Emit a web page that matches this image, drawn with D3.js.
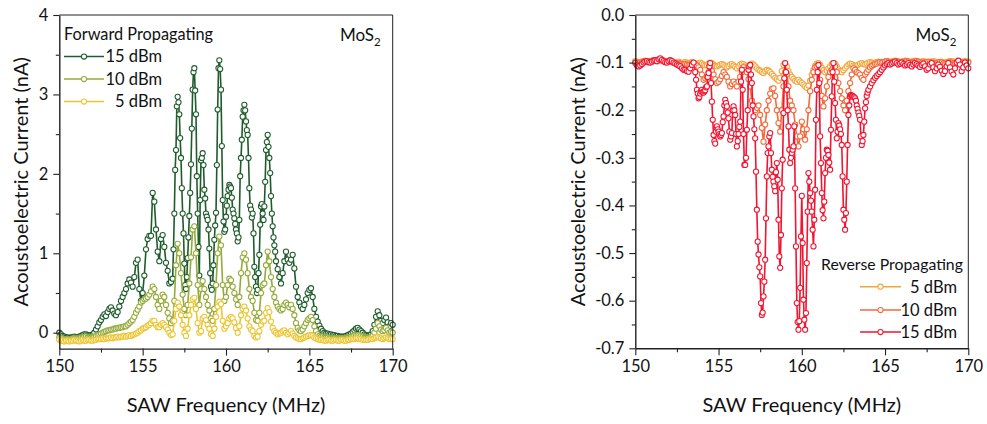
<!DOCTYPE html>
<html><head><meta charset="utf-8">
<script src="https://cdn.jsdelivr.net/npm/d3@7"></script>
<style>body{margin:0;background:#fff;} svg text{font-family:Lato,"Open Sans",sans-serif;fill:#111;}</style>
</head><body><svg id="c" width="987" height="424"></svg>
<script>
const freqMHz = [
150.0,150.1,150.2,150.3,150.4,150.5,150.6,150.7,150.8,150.9,
151.0,151.1,151.2,151.3,151.4,151.5,151.6,151.7,151.8,151.9,
152.0,152.1,152.2,152.3,152.4,152.5,152.6,152.7,152.8,152.9,
153.0,153.1,153.2,153.3,153.4,153.5,153.6,153.7,153.8,153.9,
154.0,154.1,154.2,154.3,154.4,154.5,154.6,154.7,154.8,154.9,
155.0,155.1,155.2,155.3,155.4,155.5,155.6,155.7,155.8,155.9,
156.0,156.1,156.2,156.3,156.4,156.5,156.6,156.7,156.8,156.9,
157.0,157.1,157.2,157.3,157.4,157.5,157.6,157.7,157.8,157.9,
158.0,158.1,158.2,158.3,158.4,158.5,158.6,158.7,158.8,158.9,
159.0,159.1,159.2,159.3,159.4,159.5,159.6,159.7,159.8,159.9,
160.0,160.1,160.2,160.3,160.4,160.5,160.6,160.7,160.8,160.9,
161.0,161.1,161.2,161.3,161.4,161.5,161.6,161.7,161.8,161.9,
162.0,162.1,162.2,162.3,162.4,162.5,162.6,162.7,162.8,162.9,
163.0,163.1,163.2,163.3,163.4,163.5,163.6,163.7,163.8,163.9,
164.0,164.1,164.2,164.3,164.4,164.5,164.6,164.7,164.8,164.9,
165.0,165.1,165.2,165.3,165.4,165.5,165.6,165.7,165.8,165.9,
166.0,166.1,166.2,166.3,166.4,166.5,166.6,166.7,166.8,166.9,
167.0,167.1,167.2,167.3,167.4,167.5,167.6,167.7,167.8,167.9,
168.0,168.1,168.2,168.3,168.4,168.5,168.6,168.7,168.8,168.9,
169.0,169.1,169.2,169.3,169.4,169.5,169.6,169.7,169.8,169.9,
170.0];

// Forward propagating (nA)
const fwd15 = [
0.00,-0.02,-0.04,-0.05,-0.06,-0.06,-0.07,-0.06,-0.06,-0.05,
-0.06,-0.06,-0.05,-0.04,-0.03,-0.02,-0.02,-0.03,-0.03,-0.03,
-0.02,0.00,0.04,0.08,0.13,0.16,0.20,0.23,0.21,0.26,
0.30,0.32,0.28,0.24,0.22,0.26,0.33,0.40,0.45,0.50,
0.55,0.62,0.67,0.63,0.58,0.70,0.88,0.92,0.55,0.40,
0.50,0.72,1.05,1.18,1.22,1.22,1.76,1.65,1.30,1.02,
0.90,1.18,1.23,1.08,0.88,0.78,0.62,0.64,0.68,1.50,
2.30,2.97,2.75,2.20,1.50,0.87,0.55,0.94,1.47,2.12,
3.06,3.33,2.75,1.50,0.72,2.17,2.26,1.80,1.50,1.42,
1.06,0.58,0.62,1.17,1.51,2.81,3.43,3.06,1.67,1.27,
1.46,1.72,1.86,1.82,1.55,1.44,1.30,1.15,1.42,2.20,
2.72,2.87,2.66,2.49,1.82,1.55,1.50,0.83,0.58,0.54,
0.98,1.59,1.50,1.59,2.30,2.49,2.20,1.72,1.34,1.10,
0.90,0.80,0.70,0.62,0.75,0.90,1.02,0.92,0.88,0.92,
0.98,0.81,0.58,0.45,0.38,0.33,0.30,0.35,0.42,0.50,
0.54,0.56,0.45,0.30,0.20,0.14,0.09,0.05,0.02,0.00,
-0.01,-0.01,-0.02,-0.02,-0.03,-0.03,-0.04,-0.04,-0.05,-0.05,
-0.05,-0.05,-0.04,-0.03,-0.02,-0.01,0.01,0.03,0.05,0.06,
0.04,0.02,0.00,-0.02,-0.03,-0.04,-0.03,-0.02,0.02,0.10,
0.20,0.27,0.22,0.15,0.12,0.16,0.19,0.13,0.08,0.12,
0.10];
// extra (denser) readings of the 15 dBm sweep in the resonance band
const fwd15MidFreq = [
156.85,156.95,
157.05,157.15,157.25,157.35,157.45,157.55,157.65,157.75,157.85,157.95,
158.05,158.15,158.25,158.35,158.45,158.55,158.65,158.75,158.85,158.95,
159.05,159.15,159.25,159.35,159.45,159.55,159.65,159.75,159.85,159.95,
160.05,160.15,160.25,160.35,160.45,160.55,160.65,160.75,160.85,160.95,
161.05,161.15,161.25,161.35,161.45,161.55,161.65,161.75,161.85,161.95,
162.05,162.15,162.25,162.35,162.45,162.55,162.65,162.75,162.85,162.95];
const fwd15Mid = [
1.05,2.05,
2.85,2.90,2.45,1.82,1.25,0.60,0.70,1.20,1.76,2.57,
3.28,3.05,1.97,1.08,1.67,2.20,2.11,1.69,1.46,1.30,
0.75,0.54,0.85,1.35,2.11,3.33,3.32,2.35,1.40,1.30,
1.60,1.80,1.84,1.70,1.50,1.37,1.25,1.20,1.97,2.43,
2.80,2.80,2.55,2.20,1.60,1.45,1.25,0.70,0.50,0.75,
1.36,1.62,1.42,1.90,2.40,2.34,2.01,1.50,1.20,1.02];
const fwd10 = [
-0.06,-0.07,-0.07,-0.08,-0.08,-0.08,-0.08,-0.08,-0.07,-0.07,
-0.07,-0.07,-0.07,-0.06,-0.06,-0.05,-0.05,-0.06,-0.06,-0.06,
-0.06,-0.05,-0.04,-0.03,-0.02,-0.01,0.00,0.01,0.02,0.03,
0.03,0.04,0.04,0.05,0.05,0.06,0.06,0.07,0.07,0.08,
0.08,0.10,0.12,0.14,0.16,0.20,0.25,0.29,0.33,0.38,
0.40,0.42,0.43,0.45,0.48,0.52,0.58,0.55,0.45,0.35,
0.30,0.40,0.48,0.45,0.35,0.25,0.18,0.12,0.15,0.40,
0.85,1.12,1.00,0.75,0.48,0.30,0.22,0.35,0.62,0.95,
1.30,1.34,1.00,0.60,0.35,0.55,0.65,0.55,0.45,0.35,
0.28,0.18,0.15,0.30,0.60,1.00,1.21,1.10,0.60,0.40,
0.45,0.60,0.68,0.66,0.58,0.50,0.42,0.35,0.45,0.75,
0.95,1.00,0.92,0.75,0.55,0.45,0.40,0.25,0.16,0.15,
0.25,0.50,0.60,0.62,0.85,1.02,0.90,0.70,0.55,0.45,
0.38,0.33,0.30,0.28,0.30,0.35,0.38,0.35,0.32,0.35,
0.30,0.22,0.12,0.06,0.03,0.02,0.04,0.08,0.12,0.16,
0.18,0.20,0.16,0.08,0.02,-0.02,-0.04,-0.05,-0.05,-0.06,
-0.06,-0.06,-0.07,-0.07,-0.07,-0.07,-0.07,-0.07,-0.07,-0.07,
-0.07,-0.07,-0.07,-0.06,-0.06,-0.05,-0.04,-0.03,-0.03,-0.03,
-0.03,-0.04,-0.05,-0.06,-0.06,-0.06,-0.06,-0.05,-0.04,0.00,
0.05,0.12,0.08,0.04,0.02,0.03,0.06,0.03,0.00,0.01,
0.00];
const fwd5 = [
-0.09,-0.10,-0.10,-0.11,-0.10,-0.10,-0.11,-0.10,-0.10,-0.09,
-0.10,-0.10,-0.11,-0.10,-0.09,-0.10,-0.10,-0.09,-0.09,-0.10,
-0.10,-0.09,-0.09,-0.08,-0.08,-0.08,-0.07,-0.08,-0.07,-0.07,
-0.07,-0.06,-0.07,-0.06,-0.06,-0.05,-0.06,-0.05,-0.05,-0.04,
-0.05,-0.04,-0.03,-0.04,-0.03,-0.02,-0.01,0.00,0.02,0.03,
0.05,0.06,0.07,0.09,0.10,0.12,0.15,0.15,0.10,0.07,
0.07,0.10,0.12,0.10,0.07,0.04,0.00,-0.03,-0.02,0.15,
0.30,0.38,0.33,0.22,0.10,0.00,-0.04,0.05,0.22,0.35,
0.42,0.44,0.30,0.12,0.00,0.02,0.18,0.20,0.16,0.10,
0.05,-0.02,-0.04,0.05,0.20,0.33,0.39,0.36,0.15,0.05,
0.08,0.12,0.18,0.20,0.18,0.13,0.06,0.00,0.08,0.22,
0.30,0.33,0.28,0.18,0.08,0.04,0.02,-0.04,-0.06,-0.05,
0.02,0.10,0.14,0.15,0.25,0.31,0.26,0.14,0.06,0.02,
0.00,-0.02,-0.01,0.00,0.02,0.03,0.00,-0.02,0.00,0.02,
-0.01,-0.04,-0.06,-0.07,-0.08,-0.08,-0.07,-0.06,-0.05,-0.04,
-0.03,-0.03,-0.04,-0.06,-0.07,-0.08,-0.09,-0.09,-0.09,-0.10,
-0.10,-0.09,-0.09,-0.10,-0.10,-0.09,-0.09,-0.10,-0.10,-0.09,
-0.09,-0.10,-0.10,-0.09,-0.09,-0.08,-0.08,-0.08,-0.07,-0.07,
-0.08,-0.08,-0.09,-0.09,-0.09,-0.09,-0.08,-0.08,-0.08,-0.07,
-0.06,-0.05,-0.06,-0.07,-0.08,-0.07,-0.06,-0.07,-0.08,-0.08,
-0.08];

// Reverse propagating (nA)
const rev5 = [
-0.097,-0.098,-0.100,-0.099,-0.098,-0.097,-0.096,-0.097,-0.098,-0.097,
-0.096,-0.095,-0.096,-0.097,-0.096,-0.095,-0.094,-0.096,-0.097,-0.097,
-0.096,-0.097,-0.098,-0.099,-0.100,-0.099,-0.098,-0.100,-0.101,-0.100,
-0.099,-0.100,-0.101,-0.100,-0.099,-0.100,-0.102,-0.103,-0.101,-0.100,
-0.102,-0.104,-0.106,-0.105,-0.102,-0.100,-0.101,-0.104,-0.107,-0.108,
-0.106,-0.104,-0.103,-0.105,-0.108,-0.110,-0.107,-0.104,-0.103,-0.106,
-0.109,-0.112,-0.108,-0.104,-0.102,-0.103,-0.106,-0.109,-0.107,-0.104,
-0.102,-0.104,-0.108,-0.112,-0.115,-0.117,-0.120,-0.122,-0.118,-0.115,
-0.117,-0.120,-0.124,-0.128,-0.132,-0.135,-0.138,-0.132,-0.118,-0.105,
-0.102,-0.108,-0.118,-0.125,-0.130,-0.134,-0.138,-0.140,-0.136,-0.140,
-0.143,-0.146,-0.150,-0.153,-0.148,-0.138,-0.126,-0.115,-0.107,-0.102,
-0.101,-0.105,-0.111,-0.116,-0.120,-0.117,-0.112,-0.108,-0.103,-0.101,
-0.102,-0.108,-0.114,-0.118,-0.120,-0.116,-0.112,-0.108,-0.104,-0.102,
-0.103,-0.106,-0.108,-0.106,-0.104,-0.102,-0.101,-0.103,-0.104,-0.102,
-0.100,-0.099,-0.100,-0.101,-0.100,-0.099,-0.098,-0.099,-0.100,-0.099,
-0.098,-0.097,-0.098,-0.099,-0.098,-0.097,-0.096,-0.097,-0.098,-0.099,
-0.098,-0.097,-0.096,-0.097,-0.098,-0.099,-0.098,-0.097,-0.096,-0.097,
-0.098,-0.099,-0.098,-0.097,-0.098,-0.099,-0.100,-0.099,-0.098,-0.097,
-0.098,-0.099,-0.100,-0.099,-0.098,-0.099,-0.100,-0.099,-0.098,-0.097,
-0.097,-0.098,-0.099,-0.098,-0.097,-0.098,-0.099,-0.098,-0.097,-0.098,
-0.098];
const rev10 = [
-0.099,-0.100,-0.101,-0.100,-0.099,-0.098,-0.097,-0.098,-0.099,-0.098,
-0.097,-0.096,-0.095,-0.096,-0.095,-0.094,-0.095,-0.097,-0.098,-0.098,
-0.097,-0.098,-0.099,-0.100,-0.101,-0.102,-0.101,-0.102,-0.103,-0.104,
-0.103,-0.104,-0.105,-0.104,-0.102,-0.101,-0.103,-0.106,-0.110,-0.115,
-0.125,-0.136,-0.133,-0.130,-0.120,-0.110,-0.118,-0.125,-0.135,-0.143,
-0.140,-0.135,-0.128,-0.120,-0.125,-0.130,-0.140,-0.150,-0.145,-0.140,
-0.145,-0.150,-0.140,-0.130,-0.120,-0.110,-0.115,-0.120,-0.135,-0.150,
-0.180,-0.190,-0.200,-0.195,-0.190,-0.210,-0.237,-0.266,-0.230,-0.200,
-0.180,-0.165,-0.155,-0.154,-0.170,-0.200,-0.227,-0.245,-0.200,-0.150,
-0.120,-0.125,-0.150,-0.180,-0.190,-0.200,-0.230,-0.255,-0.276,-0.255,
-0.224,-0.240,-0.262,-0.240,-0.200,-0.160,-0.136,-0.120,-0.110,-0.108,
-0.120,-0.136,-0.170,-0.192,-0.175,-0.150,-0.130,-0.120,-0.115,-0.110,
-0.108,-0.120,-0.143,-0.160,-0.175,-0.190,-0.200,-0.180,-0.160,-0.143,
-0.125,-0.112,-0.115,-0.120,-0.122,-0.125,-0.132,-0.136,-0.125,-0.120,
-0.115,-0.110,-0.107,-0.105,-0.103,-0.102,-0.100,-0.099,-0.100,-0.099,
-0.098,-0.097,-0.098,-0.099,-0.100,-0.099,-0.098,-0.097,-0.098,-0.099,
-0.100,-0.099,-0.098,-0.097,-0.098,-0.099,-0.100,-0.099,-0.098,-0.097,
-0.098,-0.099,-0.100,-0.101,-0.100,-0.099,-0.098,-0.099,-0.100,-0.101,
-0.102,-0.101,-0.100,-0.099,-0.100,-0.102,-0.103,-0.101,-0.100,-0.099,
-0.100,-0.102,-0.101,-0.099,-0.098,-0.099,-0.101,-0.100,-0.099,-0.100,
-0.100];
const rev15 = [
-0.101,-0.106,-0.108,-0.106,-0.103,-0.100,-0.098,-0.097,-0.099,-0.100,
-0.098,-0.096,-0.095,-0.097,-0.093,-0.091,-0.094,-0.097,-0.099,-0.100,
-0.097,-0.095,-0.097,-0.100,-0.102,-0.104,-0.106,-0.108,-0.112,-0.115,
-0.115,-0.118,-0.119,-0.112,-0.105,-0.100,-0.120,-0.157,-0.175,-0.165,
-0.157,-0.163,-0.158,-0.150,-0.122,-0.101,-0.182,-0.252,-0.270,-0.234,
-0.245,-0.255,-0.248,-0.213,-0.178,-0.192,-0.217,-0.262,-0.248,-0.192,
-0.210,-0.276,-0.250,-0.224,-0.115,-0.250,-0.315,-0.241,-0.115,-0.105,
-0.143,-0.213,-0.259,-0.409,-0.503,-0.549,-0.630,-0.591,-0.514,-0.339,
-0.276,-0.248,-0.325,-0.350,-0.370,-0.311,-0.430,-0.531,-0.364,-0.206,
-0.101,-0.157,-0.234,-0.311,-0.290,-0.276,-0.364,-0.605,-0.661,-0.573,
-0.380,-0.598,-0.661,-0.521,-0.332,-0.374,-0.413,-0.486,-0.367,-0.157,
-0.105,-0.255,-0.374,-0.427,-0.332,-0.283,-0.294,-0.325,-0.171,-0.101,
-0.185,-0.259,-0.227,-0.240,-0.273,-0.409,-0.451,-0.350,-0.210,-0.171,
-0.170,-0.172,-0.175,-0.190,-0.205,-0.220,-0.273,-0.252,-0.196,-0.170,
-0.157,-0.150,-0.143,-0.137,-0.132,-0.128,-0.124,-0.120,-0.115,-0.110,
-0.106,-0.103,-0.101,-0.104,-0.102,-0.100,-0.098,-0.101,-0.104,-0.102,
-0.100,-0.103,-0.106,-0.104,-0.101,-0.105,-0.108,-0.104,-0.101,-0.103,
-0.106,-0.109,-0.105,-0.102,-0.108,-0.115,-0.112,-0.104,-0.101,-0.110,
-0.118,-0.112,-0.104,-0.109,-0.117,-0.124,-0.118,-0.108,-0.101,-0.110,
-0.119,-0.125,-0.112,-0.100,-0.096,-0.104,-0.118,-0.110,-0.100,-0.106,
-0.112];
const rev15MidFreq = [
153.65,153.75,153.85,153.95,
154.05,154.15,154.25,154.35,154.45,154.55,154.65,154.75,154.85,154.95,
155.05,155.15,155.25,155.35,155.45,155.55,155.65,155.75,155.85,155.95,
156.05,156.15,156.25,156.35,156.45,156.55,156.65,156.75,156.85,156.95,
157.05,157.15,157.25,157.35,157.45,157.55,157.65,157.75,157.85,157.95,
158.05,158.15,158.25,158.35,158.45,158.55,158.65,158.75,158.85,158.95,
159.05,159.15,159.25,159.35,159.45,159.55,159.65,159.75,159.85,159.95,
160.05,160.15,160.25,160.35,160.45,160.55,160.65,160.75,160.85,160.95,
161.05,161.15,161.25,161.35,161.45,161.55,161.65,161.75,161.85,161.95,
162.05,162.15,162.25,162.35,162.45,162.55,162.65,162.75,162.85,162.95,
163.05,163.15,163.25,163.35,163.45,163.55,163.65,163.75,163.85,163.95];
const rev15Mid = [
-0.136,-0.165,-0.172,-0.160,
-0.162,-0.160,-0.152,-0.130,-0.108,-0.143,-0.220,-0.265,-0.245,-0.240,
-0.250,-0.252,-0.225,-0.190,-0.185,-0.205,-0.245,-0.255,-0.200,-0.200,
-0.250,-0.265,-0.235,-0.140,-0.157,-0.315,-0.300,-0.200,-0.108,-0.125,
-0.190,-0.240,-0.329,-0.476,-0.530,-0.605,-0.625,-0.560,-0.427,-0.290,
-0.255,-0.290,-0.340,-0.360,-0.330,-0.346,-0.507,-0.462,-0.304,-0.133,
-0.120,-0.200,-0.283,-0.300,-0.283,-0.234,-0.486,-0.645,-0.643,-0.465,
-0.479,-0.640,-0.626,-0.413,-0.350,-0.390,-0.451,-0.430,-0.220,-0.120,
-0.143,-0.311,-0.410,-0.392,-0.300,-0.285,-0.310,-0.241,-0.120,-0.140,
-0.220,-0.245,-0.232,-0.250,-0.339,-0.430,-0.416,-0.273,-0.190,-0.168,
-0.170,-0.173,-0.180,-0.197,-0.212,-0.255,-0.265,-0.224,-0.183,-0.163];

const xTicks = [150,155,160,165,170];
const xMinorTicks = [152.5,157.5,162.5,167.5];
const leftYTicks = [0,1,2,3,4];
const leftYMinor = [0.5,1.5,2.5,3.5];
const rightYTicks = [0,-0.1,-0.2,-0.3,-0.4,-0.5,-0.6,-0.7];
const rightYTickLabels = ["0.0","-0.1","-0.2","-0.3","-0.4","-0.5","-0.6","-0.7"];
const rightYMinor = [-0.05,-0.15,-0.25,-0.35,-0.45,-0.55,-0.65];
const fwdLabels = ["15 dBm","10 dBm","5 dBm"];
const revLabels = ["5 dBm","10 dBm","15 dBm"];
const xTitle = "SAW Frequency (MHz)";
const yTitle = "Acoustoelectric Current (nA)";

const svg = d3.select("#c");

function seriesPoints(vals, midF, midV){
  const pts = freqMHz.map((f,i)=>[f,vals[i]]);
  if (midF) midF.forEach((f,i)=>pts.push([f,midV[i]]));
  return pts.sort((a,b)=>a[0]-b[0]);
}

function panel(cfg){
  const x = d3.scaleLinear().domain([150,170]).range([cfg.x0,cfg.x1]);
  const y = d3.scaleLinear().domain(cfg.yDomain).range([cfg.yb,cfg.yt]);
  const g = svg.append("g");
  cfg.series.forEach(s=>{
    const pts = seriesPoints(s.values, s.midF, s.midV);
    g.append("path").datum(pts)
      .attr("d", d3.line().x(d=>x(d[0])).y(d=>y(d[1])))
      .attr("fill","none").attr("stroke",s.color).attr("stroke-width",1.6);
    g.append("g").selectAll("circle").data(pts).join("circle")
      .attr("cx",d=>x(d[0])).attr("cy",d=>y(d[1])).attr("r",2.6)
      .attr("fill","#fff").attr("stroke",s.color).attr("stroke-width",1.05);
  });
  g.append("line").attr("x1",cfg.x0).attr("x2",cfg.x1).attr("y1",cfg.yt).attr("y2",cfg.yt).attr("stroke","#222").attr("stroke-width",1);
  g.append("line").attr("x1",cfg.x1).attr("x2",cfg.x1).attr("y1",cfg.yt).attr("y2",cfg.yb).attr("stroke","#222").attr("stroke-width",1);
  g.append("g").attr("transform",`translate(0,${cfg.yb})`)
    .call(d3.axisBottom(x).tickValues(xTicks).tickSize(7).tickSizeOuter(0).tickPadding(5).tickFormat(d3.format("d")));
  g.append("g").attr("transform",`translate(0,${cfg.yb})`)
    .call(d3.axisBottom(x).tickValues(xMinorTicks).tickSize(4).tickSizeOuter(0).tickFormat(""))
    .select(".domain").remove();
  g.append("g").attr("transform",`translate(${cfg.x0},0)`)
    .call(d3.axisLeft(y).tickValues(cfg.yTicks).tickSize(6).tickSizeOuter(0).tickPadding(5).tickFormat((d,i)=>cfg.yLabels[i]));
  g.append("g").attr("transform",`translate(${cfg.x0},0)`)
    .call(d3.axisLeft(y).tickValues(cfg.yMinor).tickSize(3.5).tickSizeOuter(0).tickFormat(""))
    .select(".domain").remove();
  g.selectAll(".domain").attr("stroke","#222").attr("stroke-width",1.4);
  g.selectAll(".tick line").attr("stroke","#222").attr("stroke-width",1.1);
  g.selectAll(".tick text").style("font-family",'Lato,"Open Sans",sans-serif').attr("font-size",16.5).attr("fill","#111");
  g.append("text").attr("x",(cfg.x0+cfg.x1)/2).attr("y",412).attr("text-anchor","middle")
    .attr("font-size",20).text(xTitle);
  g.append("text").attr("transform",`translate(${cfg.yTitleX},${(cfg.yt+cfg.yb)/2}) rotate(-90)`)
    .attr("text-anchor","middle").attr("font-size",20).text(yTitle);
  const m = g.append("text").attr("x",cfg.x1-12).attr("y",41).attr("text-anchor","end").attr("font-size",17);
  m.append("tspan").text("MoS");
  m.append("tspan").attr("font-size",11.5).attr("dy",5).text("2");
  const L = cfg.legend;
  g.append("text").attr("x",L.titleX).attr("y",L.titleY).attr("font-size",L.titleSize).text(L.title);
  L.items.forEach((it,i)=>{
    const yy = L.rowY[i];
    g.append("line").attr("x1",L.lx0).attr("x2",L.lx1).attr("y1",yy).attr("y2",yy)
      .attr("stroke",it.color).attr("stroke-width",1.6);
    g.append("circle").attr("cx",(L.lx0+L.lx1)/2).attr("cy",yy).attr("r",2.6)
      .attr("fill","#fff").attr("stroke",it.color).attr("stroke-width",1.05);
    g.append("text").attr("x",L.textEnd).attr("y",yy+5.8).attr("text-anchor","end")
      .attr("font-size",16.5).text(it.label);
  });
}

const cF15="#1f5c2c", cF10="#94aa3a", cF5="#ecc530";
const cR5="#f2a63c", cR10="#f26a3a", cR15="#f21430";

panel({
  x0:59.3, x1:392.7, yt:15, yb:348.6, yDomain:[-0.2,4],
  yTicks:leftYTicks, yLabels:leftYTicks.map(String), yMinor:leftYMinor, yTitleX:28,
  series:[{values:fwd15,midF:fwd15MidFreq,midV:fwd15Mid,color:cF15},{values:fwd10,color:cF10},{values:fwd5,color:cF5}],
  legend:{title:"Forward Propagating", titleSize:16.3, titleX:64, titleY:39.5, lx0:64, lx1:104, textEnd:162,
    rowY:[56.5,79,101.5],
    items:[{label:fwdLabels[0],color:cF15},{label:fwdLabels[1],color:cF10},{label:fwdLabels[2],color:cF5}]}
});

panel({
  x0:635.3, x1:968.3, yt:15, yb:348.3, yDomain:[-0.7,0],
  yTicks:rightYTicks, yLabels:rightYTickLabels, yMinor:rightYMinor, yTitleX:585,
  series:[{values:rev5,color:cR5},{values:rev10,color:cR10},{values:rev15,midF:rev15MidFreq,midV:rev15Mid,color:cR15}],
  legend:{title:"Reverse Propagating", titleSize:15.8, titleX:821, titleY:270, lx0:860, lx1:901, textEnd:957,
    rowY:[286.7,310,332],
    items:[{label:revLabels[0],color:cR5},{label:revLabels[1],color:cR10},{label:revLabels[2],color:cR15}]}
});
</script>
</body></html>
